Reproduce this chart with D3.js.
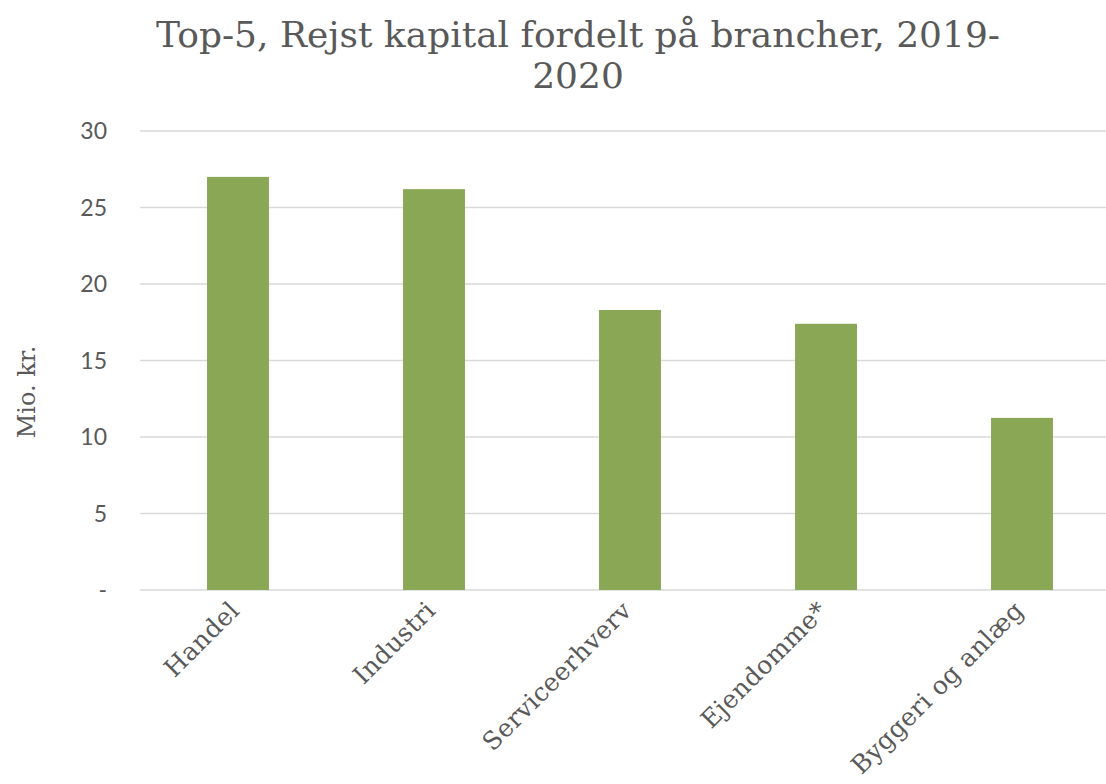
<!DOCTYPE html>
<html><head><meta charset="utf-8">
<script src="https://cdn.jsdelivr.net/npm/d3@7"></script>
<style>body{margin:0;background:#fff}svg{display:block}</style>
</head><body>
<svg id="c" width="1106" height="784"></svg>
<script>
const categories = ["Handel","Industri","Serviceerhverv","Ejendomme*","Byggeri og anlæg"];
const values = [27.0, 26.2, 18.3, 17.4, 11.25];
const yTicks = [0,5,10,15,20,25,30];
const tickLabels = ["-","5","10","15","20","25","30"];
const titleLines = ["Top-5, Rejst kapital fordelt på brancher, 2019-","2020"];
const yLabel = "Mio. kr.";

const svg = d3.select("#c");
const serif = "'DejaVu Serif', serif";
const sans = "Lato, 'Open Sans', sans-serif";
const grey = "#595959";

const x = d3.scaleBand().domain(categories).range([140,1120]).paddingInner(0.684).paddingOuter(0.342);
const y = d3.scaleLinear().domain([0,30]).range([590,131]);

// grid
svg.append("g").selectAll("line").data(yTicks).join("line")
  .attr("x1",140).attr("x2",1106)
  .attr("y1",d=>y(d)).attr("y2",d=>y(d))
  .attr("stroke","#d9d9d9").attr("stroke-width",1.5);

// y tick labels
svg.append("g").selectAll("text").data(yTicks).join("text")
  .attr("x",107).attr("y",d=>y(d)).attr("dy","0.35em")
  .attr("text-anchor","end").attr("font-family",sans).attr("font-size",23)
  .attr("fill",grey).text((d,i)=>tickLabels[i]);

// bars
svg.append("g").selectAll("rect").data(values).join("rect")
  .attr("x",(d,i)=>x(categories[i])).attr("width",x.bandwidth())
  .attr("y",d=>y(d)).attr("height",d=>y(0)-y(d))
  .attr("fill","#8aa756");

// x labels
svg.append("g").selectAll("text").data(categories).join("text")
  .attr("transform",d=>`translate(${x(d)+x.bandwidth()/2+3},612) rotate(-45)`)
  .attr("text-anchor","end").attr("font-family",serif).attr("font-size",25)
  .attr("letter-spacing",0.4)
  .attr("fill",grey).text(d=>d);

// y label
svg.append("text").attr("transform","translate(35,392) rotate(-90)")
  .attr("text-anchor","middle").attr("font-family",serif).attr("font-size",24)
  .attr("fill",grey).text(yLabel);

// title
svg.append("g").selectAll("text").data(titleLines).join("text")
  .attr("x",578).attr("y",(d,i)=>47+i*41)
  .attr("text-anchor","middle").attr("font-family",serif).attr("font-size",36)
  .attr("fill",grey).text(d=>d);
</script>
</body></html>
